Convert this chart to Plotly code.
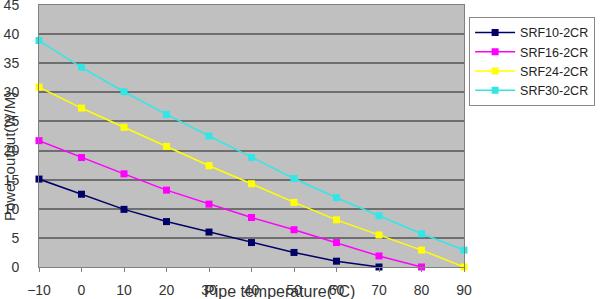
import plotly.graph_objects as go

temps = [-10, 0, 10, 20, 30, 40, 50, 60, 70, 80, 90]
srf10 = [15.1, 12.5, 9.9, 7.8, 6.0, 4.2, 2.5, 1.0, 0.0]
srf16 = [21.7, 18.8, 16.0, 13.2, 10.8, 8.5, 6.4, 4.2, 1.9, 0.0]
srf24 = [30.9, 27.3, 24.0, 20.7, 17.4, 14.3, 11.1, 8.1, 5.5, 2.9, 0.0]
srf30 = [38.9, 34.3, 30.1, 26.2, 22.5, 18.8, 15.2, 11.9, 8.8, 5.7, 2.9]

series = [
    ("SRF10-2CR", srf10, "#000066"),
    ("SRF16-2CR", srf16, "#ff00ff"),
    ("SRF24-2CR", srf24, "#ffff00"),
    ("SRF30-2CR", srf30, "#33e6e6"),
]

FONT = "Liberation Sans, Arial, sans-serif"

fig = go.Figure()
for name, vals, col in series:
    fig.add_trace(go.Scatter(
        x=temps[:len(vals)], y=vals, name=name, mode="lines+markers",
        line=dict(color=col, width=1.5),
        marker=dict(symbol="square", size=7, color=col),
        cliponaxis=False,
    ))

fig.update_layout(
    width=600, height=299,
    margin=dict(l=39, r=132, t=5, b=32),
    paper_bgcolor="white",
    plot_bgcolor="#c0c0c0",
    showlegend=True,
    legend=dict(
        x=1.012, y=0.955, xanchor="left", yanchor="top",
        bgcolor="white", bordercolor="#888888", borderwidth=1,
        font=dict(family=FONT, size=12.5, color="#222222"),
        itemwidth=40, tracegroupgap=0,
    ),
    xaxis=dict(
        range=[-10, 90], tickmode="array", tickvals=temps,
        ticktext=["\u221210" if t < 0 else str(t) for t in temps],
        showgrid=False, zeroline=False, automargin=False,
        showline=True, linecolor="#808080", linewidth=1, mirror=True,
        ticks="outside", ticklen=4, tickcolor="#808080",
        tickfont=dict(family=FONT, size=14, color="#333333"),
        ticklabelstandoff=6, ticklabeloverflow="allow",
    ),
    yaxis=dict(
        range=[0, 45], tickmode="array", tickvals=[0, 5, 10, 15, 20, 25, 30, 35, 40, 45],
        showgrid=True, gridcolor="#6e6e6e", gridwidth=1.5,
        zeroline=False, automargin=False,
        showline=True, linecolor="#808080", linewidth=1, mirror=True,
        ticks="", tickfont=dict(family=FONT, size=14, color="#333333"),
        ticklabelstandoff=16, ticklabeloverflow="allow",
    ),
    annotations=[
        dict(text="Power output(W/M)", xref="paper", yref="paper",
             x=-0.068, y=0.42, xanchor="center", yanchor="middle",
             textangle=-90, showarrow=False,
             font=dict(family=FONT, size=15, color="#333333")),
        dict(text="Pipe temperature(\u00b0C)", xref="paper", yref="paper",
             x=0.565, y=-0.093, xanchor="center", yanchor="middle",
             showarrow=False,
             font=dict(family=FONT, size=16, color="#333333")),
    ],
)

fig.write_html("out.html")
